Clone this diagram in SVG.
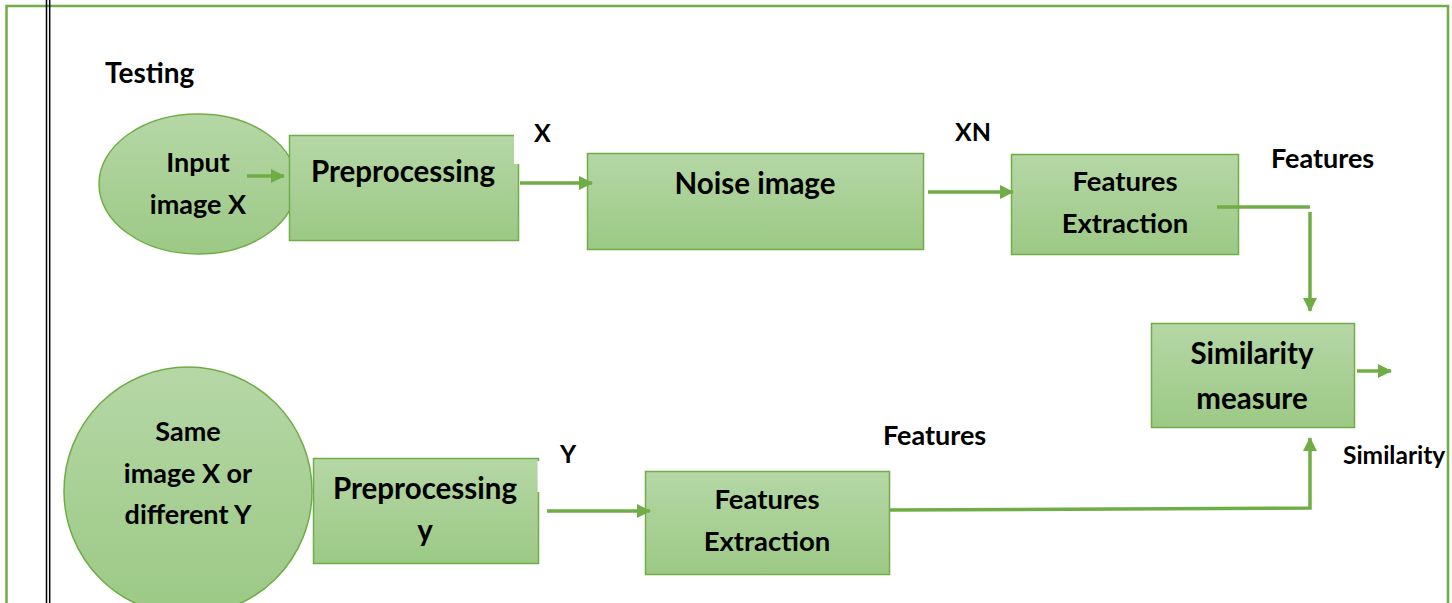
<svg xmlns="http://www.w3.org/2000/svg" width="1452" height="603" viewBox="0 0 1452 603">
<defs>
<linearGradient id="g" x1="0" y1="0" x2="0" y2="1">
<stop offset="0" stop-color="#B5D7A6"/>
<stop offset="1" stop-color="#9CC985"/>
</linearGradient>
<marker id="ah" markerUnits="userSpaceOnUse" markerWidth="14" markerHeight="14" viewBox="0 0 14 14" refX="13" refY="7" orient="auto">
<path d="M0,0 L14,7 L0,14 z" fill="#70AD47"/>
</marker>
<style>
.shape{fill:url(#g);stroke:#70AD47;stroke-width:1.5}
.t{font-family:Lato,"Liberation Sans",sans-serif;font-weight:bold;fill:#000}
.c{text-anchor:middle}
.con{fill:none;stroke:#70AD47;stroke-width:3.5}
</style>
</defs>
<rect width="1452" height="603" fill="#fff"/>
<!-- page frame -->
<path d="M6.5,610 V6 H1448 V610" fill="none" stroke="#70AD47" stroke-width="2.5"/>
<line x1="46.5" y1="0" x2="46.5" y2="603" stroke="#000" stroke-width="1.5"/>
<line x1="49.7" y1="0" x2="49.7" y2="603" stroke="#000" stroke-width="1.5"/>

<text class="t" x="105" y="83" font-size="28">Testing</text>

<g id="input">
<ellipse class="shape" cx="198" cy="184" rx="99" ry="70"/>
<text class="t c" x="198" y="172" font-size="27">Input</text>
<text class="t c" x="198" y="214" font-size="27">image X</text>
</g>

<g id="pre1">
<rect class="shape" x="289.5" y="135.5" width="229" height="105"/>
<rect x="514" y="130" width="8" height="34" fill="#fff"/>
<text class="t c" x="403" y="182" font-size="29.5">Preprocessing</text>
</g>

<g id="noise">
<rect class="shape" x="587.5" y="153.5" width="336" height="96"/>
<text class="t c" x="755" y="194" font-size="29.5">Noise image</text>
</g>

<g id="fe1">
<rect class="shape" x="1011.5" y="154.5" width="227" height="100"/>
<text class="t c" x="1125" y="191" font-size="27.5">Features</text>
<text class="t c" x="1125" y="233" font-size="27.5">Extraction</text>
</g>

<g id="sim">
<rect class="shape" x="1151.5" y="323.5" width="203" height="104"/>
<text class="t c" x="1252" y="364" font-size="29.5">Similarity</text>
<text class="t c" x="1252" y="409" font-size="29.5">measure</text>
</g>

<g id="input2">
<circle class="shape" cx="188" cy="491" r="124"/>
<text class="t c" x="188" y="441" font-size="27">Same</text>
<text class="t c" x="188" y="483" font-size="27">image X or</text>
<text class="t c" x="188" y="524" font-size="27">different Y</text>
</g>

<g id="pre2">
<rect class="shape" x="313.5" y="458.5" width="225" height="105"/>
<rect x="537.5" y="461" width="6" height="31" fill="#fff"/>
<text class="t c" x="425" y="499" font-size="29.5">Preprocessing</text>
<text class="t c" x="425" y="541" font-size="29.5">y</text>
</g>

<g id="fe2">
<rect class="shape" x="645.5" y="471.5" width="244" height="103"/>
<text class="t c" x="767" y="509" font-size="27.5">Features</text>
<text class="t c" x="767" y="551" font-size="27.5">Extraction</text>
</g>

<g id="labels">
<text class="t" x="534" y="142" font-size="25">X</text>
<text class="t" x="955" y="141" font-size="25">XN</text>
<text class="t" x="1271" y="168" font-size="27">Features</text>
<text class="t" x="1343" y="464" font-size="24.5">Similarity</text>
<text class="t" x="883" y="445" font-size="27">Features</text>
<text class="t" x="560" y="463" font-size="25">Y</text>
</g>

<g id="connectors">
<line class="con" x1="247" y1="176" x2="284" y2="176" marker-end="url(#ah)"/>
<line class="con" x1="520" y1="183" x2="592" y2="183" marker-end="url(#ah)"/>
<line class="con" x1="928" y1="192" x2="1013" y2="192" marker-end="url(#ah)"/>
<line class="con" x1="1217" y1="207" x2="1310" y2="207"/>
<line class="con" x1="1310" y1="212" x2="1310" y2="311" marker-end="url(#ah)"/>
<line class="con" x1="1357" y1="371" x2="1391" y2="371" marker-end="url(#ah)"/>
<line class="con" x1="547" y1="511" x2="650" y2="511" marker-end="url(#ah)"/>
<polyline class="con" points="890,510 1310,508 1310,438" marker-end="url(#ah)"/>
</g>
</svg>
